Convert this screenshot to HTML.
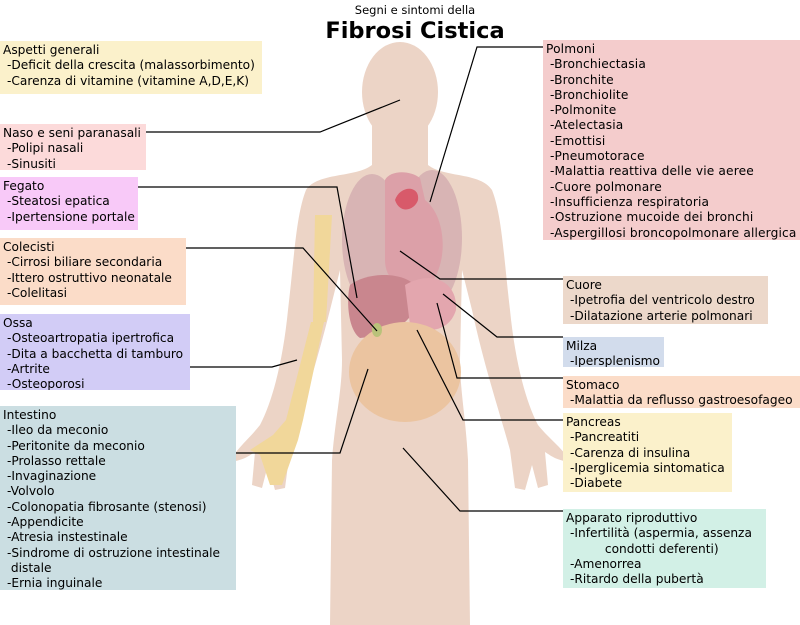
<!DOCTYPE html>
<html><head><meta charset="utf-8"><style>
body{margin:0;width:800px;height:625px;background:#fff;position:relative;overflow:hidden;font-family:"DejaVu Sans","Liberation Sans",sans-serif;}
.b{position:absolute;font-size:12.2px;line-height:15.3px;padding:2px 3px;box-sizing:border-box;color:#000;white-space:nowrap;overflow:hidden}
.b i{font-style:normal;display:block;padding-left:4px}
svg{position:absolute;left:0;top:0}
</style></head><body>
<svg width="800" height="625">
<g fill="#ecd4c6">
<ellipse cx="400" cy="92" rx="38" ry="50"/>
<rect x="372" y="120" width="56" height="62"/>
<path d="M372 165 C355 178 318 172 306 190 C296 215 294 260 288 310 C283 360 273 400 260 425 C248 440 235 450 230 462 C245 460 250 455 255 452 L252 485 L262 488 L268 465 L275 490 L285 488 L290 450 C298 420 315 370 330 310 L340 270 L342 360 C342 390 335 420 332 460 L330 625 L470 625 L468 460 C466 420 460 390 460 360 L462 270 L472 310 C485 370 502 420 510 450 L515 488 L525 490 L532 465 L538 488 L548 485 L545 452 C550 455 555 460 570 462 C565 450 550 440 538 425 C525 400 515 360 510 310 C504 260 502 215 492 190 C480 172 445 178 428 165 Z"/>
</g>
<g>
<ellipse cx="372" cy="240" rx="30" ry="66" fill="#d8b4b4"/>
<ellipse cx="432" cy="238" rx="30" ry="68" fill="#d8b4b4"/>
<path d="M385 180 C390 170 410 170 420 178 L425 200 C445 215 450 260 430 285 C410 295 385 285 385 260 Z" fill="#dca0a8"/>
<path d="M395 200 C400 185 420 185 418 200 C415 210 400 215 395 200Z" fill="#d85a6a"/>
<path d="M350 285 C370 270 410 272 418 290 C420 315 400 335 360 338 C348 330 346 300 350 285Z" fill="#c9868e"/>
<path d="M405 285 C430 270 458 280 456 310 C450 330 430 335 410 325Z" fill="#e3a6ae"/>
<ellipse cx="405" cy="372" rx="56" ry="50" fill="#ebc4a0"/>
<ellipse cx="377" cy="330" rx="5" ry="7" fill="#b9c27a"/>
<path d="M315 215 L332 215 L326 322 L313 322Z" fill="#f1d79a"/>
<path d="M311 322 L324 322 L303 420 L286 420Z" fill="#f1d79a"/>
<path d="M286 420 L303 420 L298 440 L282 485 L270 485 L260 455 L250 450 L273 435Z" fill="#f1d79a"/>
</g>
<g stroke="#000" stroke-width="1.2" fill="none">
<polyline points="146,132 320,132 400,100"/>
<polyline points="543,47 477,47 430,202"/>
<polyline points="138,187 337,187 357,298"/>
<polyline points="186,248 303,248 377,331"/>
<polyline points="190,367 272,367 297,360"/>
<polyline points="236,453 340,453 368,369"/>
<polyline points="563,279 440,279 400,251"/>
<polyline points="563,337 497,337 443,294"/>
<polyline points="563,378 457,378 437,303"/>
<polyline points="563,420 463,420 417,330"/>
<polyline points="563,511 460,511 403,448"/>
</g>
<text x="415" y="14" font-size="11.5" text-anchor="middle" font-family="DejaVu Sans,sans-serif">Segni e sintomi della</text>
<text x="415" y="38" font-size="22.5" font-weight="bold" text-anchor="middle" font-family="DejaVu Sans,sans-serif">Fibrosi Cistica</text>
</svg>
<div class="b" style="left:0;top:41px;width:262px;height:53px;background:#fbf1cb">Aspetti generali<i>-Deficit della crescita (malassorbimento)</i><i>-Carenza di vitamine (vitamine A,D,E,K)</i></div>
<div class="b" style="left:0;top:124px;width:146px;height:46px;background:#fcdada">Naso e seni paranasali<i>-Polipi nasali</i><i>-Sinusiti</i></div>
<div class="b" style="left:0;top:177px;width:138px;height:53px;background:#f8c9f8">Fegato<i>-Steatosi epatica</i><i>-Ipertensione portale</i></div>
<div class="b" style="left:0;top:238px;width:186px;height:67px;background:#fbdcc8">Colecisti<i>-Cirrosi biliare secondaria</i><i>-Ittero ostruttivo neonatale</i><i>-Colelitasi</i></div>
<div class="b" style="left:0;top:314px;width:190px;height:76px;background:#d2ccf6">Ossa<i>-Osteoartropatia ipertrofica</i><i>-Dita a bacchetta di tamburo</i><i>-Artrite</i><i>-Osteoporosi</i></div>
<div class="b" style="left:0;top:406px;width:236px;height:184px;background:#cbdee2">Intestino<i>-Ileo da meconio</i><i>-Peritonite da meconio</i><i>-Prolasso rettale</i><i>-Invaginazione</i><i>-Volvolo</i><i>-Colonopatia fibrosante (stenosi)</i><i>-Appendicite</i><i>-Atresia instestinale</i><i>-Sindrome di ostruzione intestinale<br>&nbsp;distale</i><i>-Ernia inguinale</i></div>
<div class="b" style="left:543px;top:40px;width:257px;height:200px;background:#f4cccc;letter-spacing:0.15px">Polmoni<i>-Bronchiectasia</i><i>-Bronchite</i><i>-Bronchiolite</i><i>-Polmonite</i><i>-Atelectasia</i><i>-Emottisi</i><i>-Pneumotorace</i><i>-Malattia reattiva delle vie aeree</i><i>-Cuore polmonare</i><i>-Insufficienza respiratoria</i><i>-Ostruzione mucoide dei bronchi</i><i>-Aspergillosi broncopolmonare allergica</i></div>
<div class="b" style="left:563px;top:276px;width:205px;height:48px;background:#ecd8ca">Cuore<i>-Ipetrofia del ventricolo destro</i><i>-Dilatazione arterie polmonari</i></div>
<div class="b" style="left:563px;top:337px;width:101px;height:30px;background:#d2dcec">Milza<i>-Ipersplenismo</i></div>
<div class="b" style="left:563px;top:376px;width:237px;height:32px;background:#fbdcc8">Stomaco<i>-Malattia da reflusso gastroesofageo</i></div>
<div class="b" style="left:563px;top:413px;width:169px;height:79px;background:#fbf1cb">Pancreas<i>-Pancreatiti</i><i>-Carenza di insulina</i><i>-Iperglicemia sintomatica</i><i>-Diabete</i></div>
<div class="b" style="left:563px;top:509px;width:203px;height:79px;background:#d2f0e6">Apparato riproduttivo<i>-Infertilità (aspermia, assenza<br>&nbsp;&nbsp;&nbsp;&nbsp;&nbsp;&nbsp;&nbsp;&nbsp;&nbsp;condotti deferenti)</i><i>-Amenorrea</i><i>-Ritardo della pubertà</i></div>
</body></html>
